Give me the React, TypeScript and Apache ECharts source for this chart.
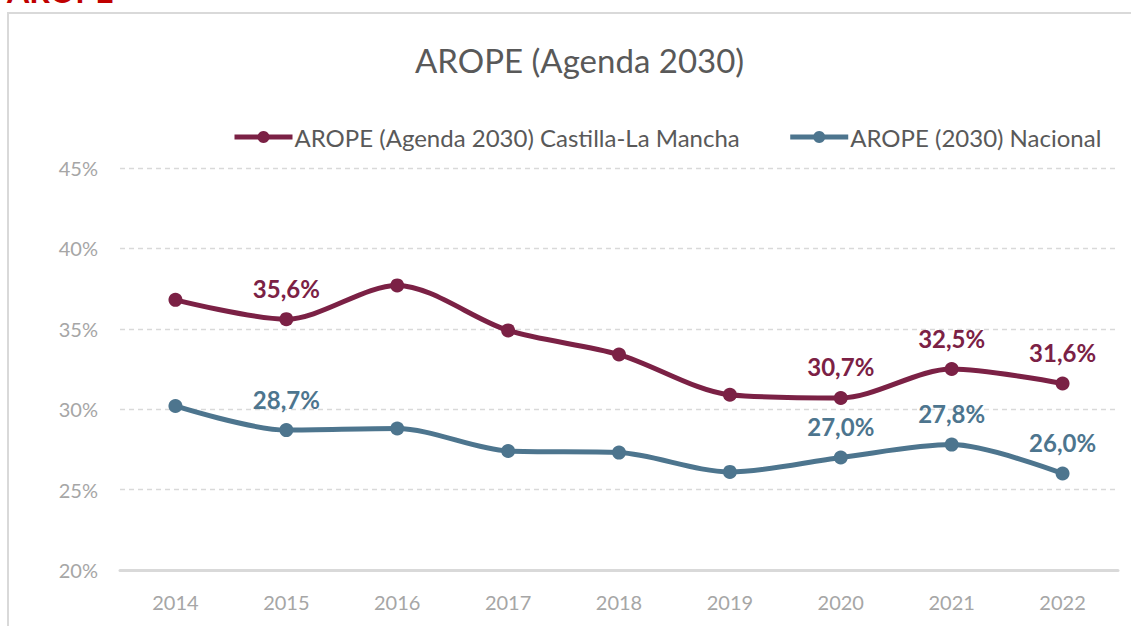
import React, { useEffect, useRef } from "react";
import * as echarts from "echarts";

const years = ["2014", "2015", "2016", "2017", "2018", "2019", "2020", "2021", "2022"];
const clmValues = [36.8, 35.6, 37.7, 34.9, 33.4, 30.9, 30.7, 32.5, 31.6];
const nacValues = [30.2, 28.7, 28.8, 27.4, 27.3, 26.1, 27.0, 27.8, 26.0];
const labelIdx = [1, 6, 7, 8];
const clmName = "AROPE (Agenda 2030) Castilla-La Mancha";
const nacName = "AROPE (2030) Nacional";
const titleText = "AROPE (Agenda 2030)";

const FONT = "Lato";
const CLM_COLOR = "#7B2145";
const NAC_COLOR = "#4D758E";

function fmt(v: number) {
  return v.toFixed(1).replace(".", ",") + "%";
}

function buildData(values: number[], color: string) {
  return values.map((v, i) => ({
    value: v,
    label: {
      show: labelIdx.includes(i),
      position: "top",
      distance: 12,
      color,
      fontFamily: FONT,
      fontWeight: "bold",
      fontSize: 24,
      formatter: (p: any) => fmt(p.value),
    },
  }));
}

export default function App() {
  const ref = useRef<HTMLDivElement>(null);
  useEffect(() => {
    if (!ref.current) return;
    const chart = echarts.init(ref.current, undefined, { renderer: "svg" });
    chart.setOption({
      animation: false,
      backgroundColor: "#ffffff",
      title: {
        text: titleText,
        left: 410,
        top: 38,
        textStyle: { fontFamily: FONT, fontWeight: "normal", fontSize: 33, color: "#595959" },
      },
      legend: {
        top: 125,
        left: 232,
        padding: 0,
        itemWidth: 58,
        itemHeight: 15,
        itemGap: 48,
        lineStyle: { width: 5 },
        textStyle: { fontFamily: FONT, fontSize: 24, color: "#595959", padding: [0, 0, 0, -3] },
        data: [clmName, nacName],
      },
      graphic: [
        {
          type: "rect",
          shape: { x: 8, y: 13, width: 1300, height: 800 },
          style: { fill: "none", stroke: "#D9D9D9", lineWidth: 2 },
          silent: true,
        },
        {
          type: "text",
          x: 7,
          y: 6,
          style: {
            text: "AROPE",
            fill: "#C00000",
            fontFamily: FONT,
            fontWeight: "bold",
            fontSize: 32,
            verticalAlign: "bottom",
          },
          silent: true,
        },
      ],
      grid: { left: 120, right: 13, top: 168, bottom: 56, containLabel: false },
      xAxis: {
        type: "category",
        data: years,
        boundaryGap: true,
        axisLine: { show: true, lineStyle: { color: "#D9D9D9", width: 3 } },
        axisTick: { show: false },
        axisLabel: { fontFamily: FONT, fontSize: 20, color: "#A6A6A6", margin: 22 },
      },
      yAxis: {
        type: "value",
        min: 20,
        max: 45,
        interval: 5,
        axisLine: { show: false },
        axisTick: { show: false },
        axisLabel: {
          fontFamily: FONT,
          fontSize: 20,
          color: "#A6A6A6",
          margin: 22,
          formatter: "{value}%",
        },
        splitLine: { show: true, lineStyle: { color: "#D9D9D9", type: [5, 4], width: 1.3 } },
      },
      series: [
        {
          name: clmName,
          type: "line",
          smooth: 0.3,
          symbol: "circle",
          symbolSize: 14,
          data: buildData(clmValues, CLM_COLOR),
          lineStyle: { color: CLM_COLOR, width: 5 },
          itemStyle: { color: CLM_COLOR },
        },
        {
          name: nacName,
          type: "line",
          smooth: 0.3,
          symbol: "circle",
          symbolSize: 14,
          data: buildData(nacValues, NAC_COLOR),
          lineStyle: { color: NAC_COLOR, width: 5 },
          itemStyle: { color: NAC_COLOR },
        },
      ],
    });
    return () => chart.dispose();
  }, []);
  return (
    <div
      ref={ref}
      style={{ position: "fixed", left: 0, top: 0, width: 1131, height: 626 }}
    />
  );
}
